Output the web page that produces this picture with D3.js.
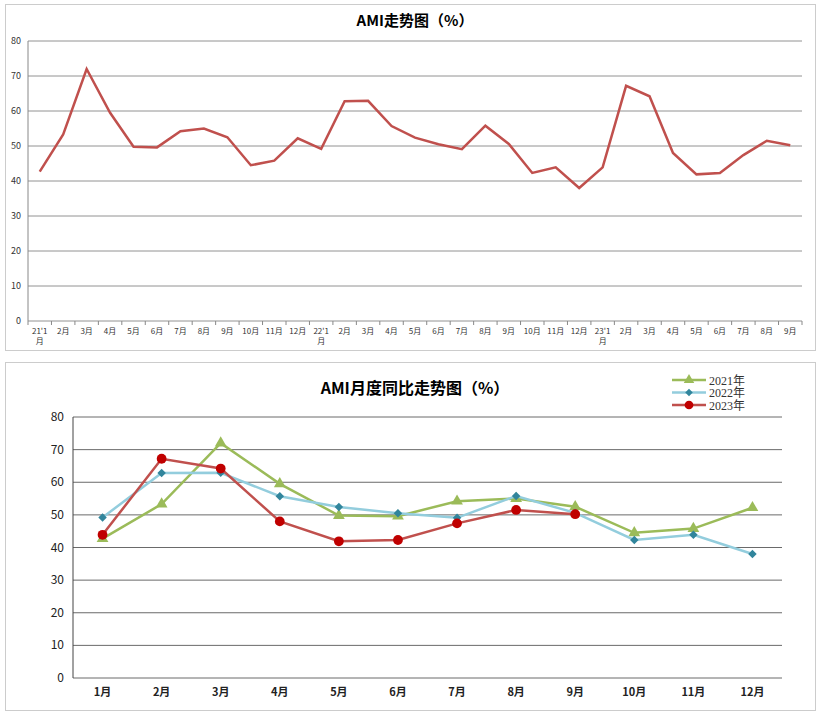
<!DOCTYPE html>
<html><head><meta charset="utf-8">
<script src="https://cdn.jsdelivr.net/npm/d3@7"></script>
<style>body{margin:0;background:#fff;font-family:"Noto Sans CJK SC","Liberation Sans",sans-serif}</style>
</head><body><svg id="c" width="822" height="716"></svg>
<script>
const months = ['1月','2月','3月','4月','5月','6月','7月','8月','9月','10月','11月','12月'];
const v2021 = [42.7, 53.3, 72.0, 59.5, 49.8, 49.6, 54.2, 55.0, 52.5, 44.5, 45.8, 52.2];
const v2022 = [49.2, 62.8, 62.9, 55.7, 52.4, 50.5, 49.1, 55.8, 50.6, 42.3, 43.9, 38.0];
const v2023 = [43.9, 67.2, 64.2, 48.0, 41.9, 42.3, 47.4, 51.5, 50.2];
const yTicks = [0,10,20,30,40,50,60,70,80];

const svg = d3.select('#c');

// ---------- top panel: continuous series ----------
const seq = v2021.concat(v2022, v2023);
const seqLabels = seq.map((d, i) => {
  const m = i % 12;
  if (m === 0) return (21 + i / 12) + "'1\n月";
  return months[m];
});
svg.append('rect').attr('x', 5.5).attr('y', 4.5).attr('width', 810).attr('height', 346)
  .attr('fill', '#fff').attr('stroke', '#ccc');
svg.append('text').attr('x', 415).attr('y', 26).attr('text-anchor', 'middle')
  .style('font-size', '15px').style('font-weight', 'bold').text('AMI走势图（%）');

const x1 = d3.scaleBand().domain(d3.range(seq.length)).range([28, 802]);
const y1 = d3.scaleLinear().domain([0, 80]).range([321, 41]);
const g1 = svg.append('g');
g1.selectAll('.grid').data(yTicks).join('line')
  .attr('x1', 28).attr('x2', 802).attr('y1', d => y1(d)).attr('y2', d => y1(d))
  .attr('stroke', '#777').attr('stroke-width', 0.8);
g1.append('line').attr('x1', 28).attr('x2', 28).attr('y1', 41).attr('y2', 321).attr('stroke', '#888');
g1.selectAll('.yl').data(yTicks).join('text')
  .attr('x', 21).attr('y', d => y1(d) + 3).attr('text-anchor', 'end')
  .style('font-size', '9px').attr('fill', '#333').text(d => d);
g1.selectAll('.tk').data(d3.range(seq.length + 1)).join('line')
  .attr('x1', d => 28 + d * x1.step()).attr('x2', d => 28 + d * x1.step())
  .attr('y1', 321).attr('y2', 325).attr('stroke', '#888');
seqLabels.forEach((l, i) => {
  const t = g1.append('text').attr('x', x1(i) + x1.bandwidth() / 2).attr('y', 334)
    .attr('text-anchor', 'middle').style('font-size', '8px').attr('fill', '#333');
  l.split('\n').forEach((s, j) => t.append('tspan').attr('x', x1(i) + x1.bandwidth() / 2).attr('dy', j ? 10 : 0).text(s));
});
g1.append('path').datum(seq)
  .attr('d', d3.line().x((d, i) => x1(i) + x1.bandwidth() / 2).y(d => y1(d)))
  .attr('fill', 'none').attr('stroke', '#c0504d').attr('stroke-width', 2.5);

// ---------- bottom panel: year over year ----------
svg.append('rect').attr('x', 5.5).attr('y', 362.5).attr('width', 810).attr('height', 348)
  .attr('fill', '#fff').attr('stroke', '#ccc');
svg.append('text').attr('x', 415).attr('y', 394).attr('text-anchor', 'middle')
  .style('font-size', '16px').style('font-weight', 'bold').text('AMI月度同比走势图（%）');

const x2 = d3.scaleBand().domain(months).range([73, 782]);
const y2 = d3.scaleLinear().domain([0, 80]).range([678, 417]);
const g2 = svg.append('g');
g2.selectAll('.grid').data(yTicks).join('line')
  .attr('x1', 73).attr('x2', 782).attr('y1', d => y2(d)).attr('y2', d => y2(d))
  .attr('stroke', '#444').attr('stroke-width', 0.8);
g2.append('line').attr('x1', 73).attr('x2', 73).attr('y1', 417).attr('y2', 678).attr('stroke', '#444');
g2.selectAll('.yl').data(yTicks).join('text')
  .attr('x', 64).attr('y', d => y2(d) + 4).attr('text-anchor', 'end')
  .style('font-size', '12px').attr('fill', '#222').text(d => d);
g2.selectAll('.xl').data(months).join('text')
  .attr('x', d => x2(d) + x2.bandwidth() / 2).attr('y', 696).attr('text-anchor', 'middle')
  .style('font-size', '11px').style('font-weight', 'bold').attr('fill', '#222').text(d => d);

const series = [
  {name: '2021年', values: v2021, color: '#9bbb59', marker: 'tri'},
  {name: '2022年', values: v2022, color: '#93cddd', mcolor: '#31859c', marker: 'dia'},
  {name: '2023年', values: v2023, color: '#c0504d', mcolor: '#c00000', marker: 'dot'}
];
const sym = {tri: d3.symbolTriangle, dia: d3.symbolSquare, dot: d3.symbolCircle};
const size = {tri: 60, dia: 36, dot: 75};
const rot = m => m === 'dia' ? ' rotate(45)' : '';
const cx = i => x2(months[i]) + x2.bandwidth() / 2;
series.forEach(s => {
  g2.append('path').datum(s.values)
    .attr('d', d3.line().x((d, i) => cx(i)).y(d => y2(d)))
    .attr('fill', 'none').attr('stroke', s.color).attr('stroke-width', 2.5);
  g2.selectAll(null).data(s.values).join('path')
    .attr('transform', (d, i) => `translate(${cx(i)},${y2(d)})` + rot(s.marker))
    .attr('d', d3.symbol(sym[s.marker], size[s.marker]))
    .attr('fill', s.mcolor || s.color);
});
series.forEach((s, i) => {
  const y = 380 + i * 12.5;
  svg.append('line').attr('x1', 672).attr('x2', 706).attr('y1', y).attr('y2', y)
    .attr('stroke', s.color).attr('stroke-width', 2.5);
  svg.append('path').attr('transform', `translate(689,${y})` + rot(s.marker))
    .attr('d', d3.symbol(sym[s.marker], size[s.marker] * 0.8)).attr('fill', s.mcolor || s.color);
  svg.append('text').attr('x', 709).attr('y', y + 4.5).style('font-size', '12px')
    .style('font-family', '"Liberation Serif","Noto Sans CJK SC",serif').attr('fill', '#333').text(s.name);
});
</script></body></html>
